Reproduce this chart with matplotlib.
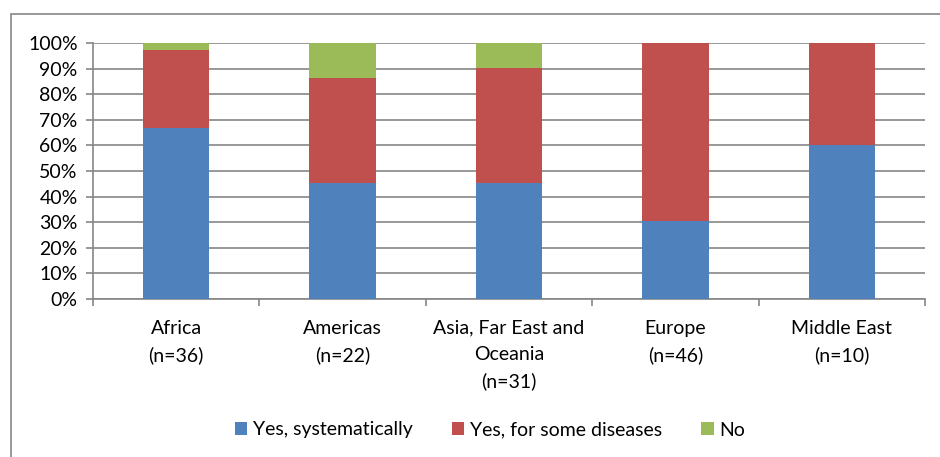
import matplotlib
matplotlib.use("Agg")
import matplotlib.pyplot as plt
from matplotlib.patches import Rectangle
from matplotlib.ticker import FixedLocator, PercentFormatter

regions = ["Africa\n(n=36)", "Americas\n(n=22)", "Asia, Far East and\nOceania\n(n=31)",
           "Europe\n(n=46)", "Middle East\n(n=10)"]
yes_sys = [66.7, 45.5, 45.2, 30.4, 60.0]
yes_some = [30.5, 40.9, 45.1, 69.6, 40.0]
no = [2.8, 13.6, 9.7, 0.0, 0.0]
series_names = ["Yes, systematically", "Yes, for some diseases", "No"]

BLUE = "#4F81BD"
RED = "#C0504D"
GREEN = "#9BBB59"
GRID = "#868686"

plt.rcParams["font.family"] = ["Lato", "DejaVu Sans"]

fig = plt.figure(figsize=(9.4, 4.57), dpi=100)
ax = fig.add_axes([93 / 940, 1 - 299 / 457, 832 / 940, 256 / 457])

# chart frame
fig.patches.append(Rectangle((11 / 940, -0.05), 1.2, 1.05 - 14 / 457,
                             transform=fig.transFigure, fill=False,
                             edgecolor=GRID, linewidth=1.2))

x = range(len(regions))
w = 0.4
bottom2 = [a + b for a, b in zip(yes_sys, yes_some)]
ax.bar(x, yes_sys, w, color=BLUE, label=series_names[0], zorder=3)
ax.bar(x, yes_some, w, bottom=yes_sys, color=RED, label=series_names[1], zorder=3)
ax.bar(x, no, w, bottom=bottom2, color=GREEN, label=series_names[2], zorder=3)

ax.set_xlim(-0.5, 4.5)
ax.set_ylim(0, 100)
ax.set_yticks(range(0, 101, 10))
ax.yaxis.set_major_formatter(PercentFormatter(decimals=0))
ax.grid(axis="y", color=GRID, linewidth=1.2, zorder=0)

ax.set_xticks(list(x))
ax.set_xticklabels(regions, fontsize=14, linespacing=1.62)
ax.xaxis.set_minor_locator(FixedLocator([-0.5, 0.5, 1.5, 2.5, 3.5, 4.5]))
ax.tick_params(axis="x", which="major", length=0, pad=15)
ax.tick_params(axis="x", which="minor", length=5, color=GRID, width=1.2)
ax.tick_params(axis="y", length=5, color=GRID, width=1.2, labelsize=14, pad=6)

for s in ["top", "right"]:
    ax.spines[s].set_visible(False)
for s in ["left", "bottom"]:
    ax.spines[s].set_color(GRID)
    ax.spines[s].set_linewidth(1.2)

fig.legend(loc="center", bbox_to_anchor=(490 / 940, 1 - 430 / 457), ncol=3,
           frameon=False, fontsize=14, handlelength=0.65, handleheight=0.65,
           handletextpad=0.3, columnspacing=2.0)

fig.savefig("out.png", dpi=100, facecolor="white")
